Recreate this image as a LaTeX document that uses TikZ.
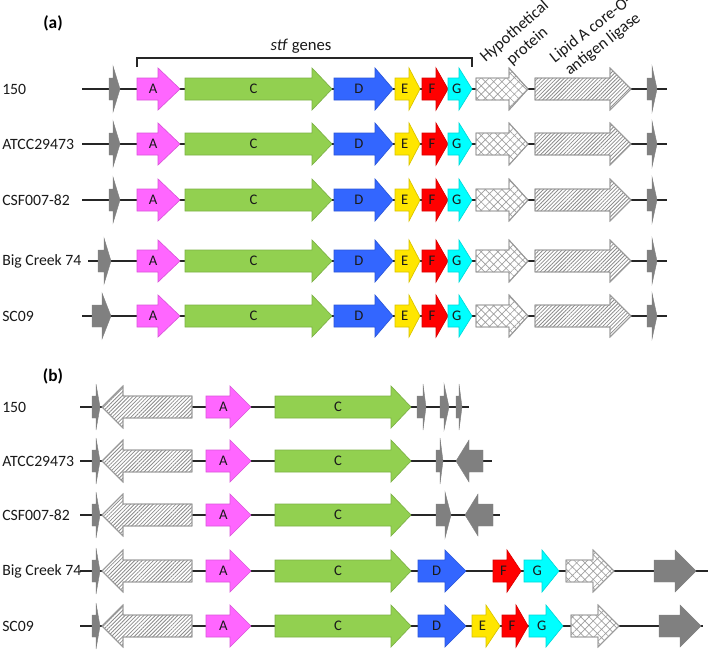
\documentclass[tikz,border=0pt]{standalone}
\usepackage{fontspec}
\setmainfont{Carlito}
\usetikzlibrary{patterns.meta}
\definecolor{cA}{HTML}{FF66FF}
\definecolor{cC}{HTML}{92D050}
\definecolor{cD}{HTML}{3366FF}
\definecolor{cE}{HTML}{FFE600}
\definecolor{cF}{HTML}{FF0000}
\definecolor{cG}{HTML}{00FFFF}
\definecolor{cGr}{HTML}{808080}
\definecolor{cTx}{HTML}{1A1A1A}
\tikzset{
  dna/.style={line width=1.4pt, draw=black!85},
  gA/.style={fill=cA, draw=cA!85!black, line width=0.5pt},
  gC/.style={fill=cC, draw=cC!85!black, line width=0.5pt},
  gD/.style={fill=cD, draw=cD!85!black, line width=0.5pt},
  gE/.style={fill=cE, draw=cE!85!black, line width=0.5pt},
  gF/.style={fill=cF, draw=cF!85!black, line width=0.5pt},
  gG/.style={fill=cG, draw=cG!85!black, line width=0.5pt},
  gGr/.style={fill=cGr, draw=cGr, line width=0.3pt},
  hyp/.style={fill=white, draw=gray!75, line width=0.7pt},
  hyppat/.style={pattern={Hatch[angle=45,distance=4.4pt,line width=0.5pt]}, pattern color=gray!75},
  lip/.style={fill=white, draw=gray!85, line width=0.7pt},
  lippat/.style={pattern={Lines[angle=45,distance=2pt,line width=0.6pt]}, pattern color=gray!90},
  gtxt/.style={font=\fontsize{11}{13}\selectfont, text=cTx, inner sep=0pt},
  lab/.style={font=\fontsize{11.8}{14}\selectfont, text=cTx, anchor=west, inner sep=0pt},
  panel/.style={font=\fontsize{13}{15}\selectfont\bfseries, text=black, inner sep=0pt},
  rot/.style={font=\fontsize{12.3}{14.5}\selectfont, text=cTx, align=center, inner sep=0pt},
}
% #1 style, #2 body end, #3 head base, #4 tip, #5 y, #6 text
\newcommand\genearrow[6]{%
  \path[#1] (#2,#5-11) -- (#3,#5-11) -- (#3,#5-21) -- (#4,#5) -- (#3,#5+21) -- (#3,#5+11) -- (#2,#5+11) -- cycle;
  \node[gtxt] at ({(#2+#3)/2+(#4-#3)/4},#5) {#6};}
% patterned gene: #1 base style, #2 pattern style, #3 body end, #4 head base, #5 tip, #6 y
\newcommand\patgene[6]{%
  \path[#1] (#3,#6-11) -- (#4,#6-11) -- (#4,#6-21) -- (#5,#6) -- (#4,#6+21) -- (#4,#6+11) -- (#3,#6+11) -- cycle;
  \path[#2] (#3,#6-11) -- (#4,#6-11) -- (#4,#6-21) -- (#5,#6) -- (#4,#6+21) -- (#4,#6+11) -- (#3,#6+11) -- cycle;
  \path[draw=gray!80, line width=0.7pt] (#3,#6-11) -- (#4,#6-11) -- (#4,#6-21) -- (#5,#6) -- (#4,#6+21) -- (#4,#6+11) -- (#3,#6+11) -- cycle;}
% small grey spike: body start, head base, tip, y
\newcommand\spk[4]{%
  \path[gGr] (#1,#4-11) -- (#2,#4-11) -- (#2,#4-23) -- (#3,#4) -- (#2,#4+23) -- (#2,#4+11) -- (#1,#4+11) -- cycle;}
% row: name, start, end, y, label
\newcommand\genrow[5]{%
  \coordinate (#1s) at (#2,#4);
  \coordinate (#1e) at (#3,#4);
  \draw[dna] (#1s) -- (#1e);
  \node[lab] (l#1) at (2,#4) {#5};}
\begin{document}
\begin{tikzpicture}[x=0.75pt, y=-0.75pt]
\useasboundingbox[fill=white] (0,0) rectangle (709,650);

% ---------- panel (a)
\node[panel] (pa) at (53,23) {(a)};
\coordinate (bl) at (137,67);
\coordinate (blt) at (137,58);
\coordinate (brt) at (472,58);
\coordinate (br) at (472,67);
\draw[line width=0.8pt, black!85] (bl) -- (blt) -- (brt) -- (br);
\node[font=\fontsize{12.5}{15}\selectfont, text=cTx, inner sep=0pt] (stf) at (301,46) {\textit{stf} genes};
\node[rot, rotate=41] (hyplab) at (521,39) {Hypothetical\\protein};
\node[rot, rotate=38] (liplab) at (597,37) {Lipid A core-O-\\antigen ligase};

\foreach \nm/\xs/\y/\lb/\sa/\sb/\sc in {
   a1/82/89/150/109/113/120,
   a2/82/144/ATCC29473/109/113/120,
   a3/82/200/CSF007-82/109/113/120,
   a4/88/261/Big Creek 74/98/104/111,
   a5/82/316/SC09/92/102/111}{
  \genrow{\nm}{\xs}{667}{\y}{\lb}
  \spk{\sa}{\sb}{\sc}{\y}
  \genearrow{gA}{137}{158}{180}{\y}{A}
  \genearrow{gC}{185}{312}{332}{\y}{C}
  \genearrow{gD}{334}{375}{393}{\y}{D}
  \genearrow{gE}{395}{409}{420}{\y}{E}
  \genearrow{gF}{422}{436}{448}{\y}{F}
  \genearrow{gG}{448}{459}{472}{\y}{G}
  \patgene{hyp}{hyppat}{476}{509}{528}{\y}
  \patgene{lip}{lippat}{535}{610}{631}{\y}
  \spk{647}{652}{657}{\y}
}

% ---------- panel (b)
\node[panel] (pb) at (53,376) {(b)};
\foreach \nm/\xe/\y/\lb in {
   b1/469/407/150,
   b2/492/461/ATCC29473,
   b3/500/515/CSF007-82,
   b4/708/571/Big Creek 74,
   b5/703/626/SC09}{
  \genrow{\nm}{80}{\xe}{\y}{\lb}
  \spk{92}{96}{100}{\y}
  \patgene{lip}{lippat}{192}{123}{102}{\y}
  \genearrow{gA}{206}{230}{251}{\y}{A}
  \genearrow{gC}{275}{391}{411}{\y}{C}
}
% row b1
\spk{417}{423}{426}{407}
\spk{440}{444}{449}{407}
\spk{456}{459}{462}{407}
% row b2
\spk{436}{440}{443}{461}
\genearrow{gGr}{483}{469}{456}{461}{}
% row b3
\spk{436}{445}{451}{515}
\genearrow{gGr}{493}{478}{465}{515}{}
% row b4
\genearrow{gD}{418}{445}{466}{571}{D}
\genearrow{gF}{493}{507}{521}{571}{F}
\genearrow{gG}{524}{542}{559}{571}{G}
\patgene{hyp}{hyppat}{566}{593}{614}{571}
\genearrow{gGr}{654}{675}{696}{571}{}
% row b5
\genearrow{gD}{418}{445}{466}{626}{D}
\genearrow{gE}{472}{486}{500}{626}{E}
\genearrow{gF}{502}{516}{528}{626}{F}
\genearrow{gG}{529}{546}{563}{626}{G}
\patgene{hyp}{hyppat}{571}{598}{619}{626}
\genearrow{gGr}{659}{680}{701}{626}{}
\end{tikzpicture}
\end{document}
